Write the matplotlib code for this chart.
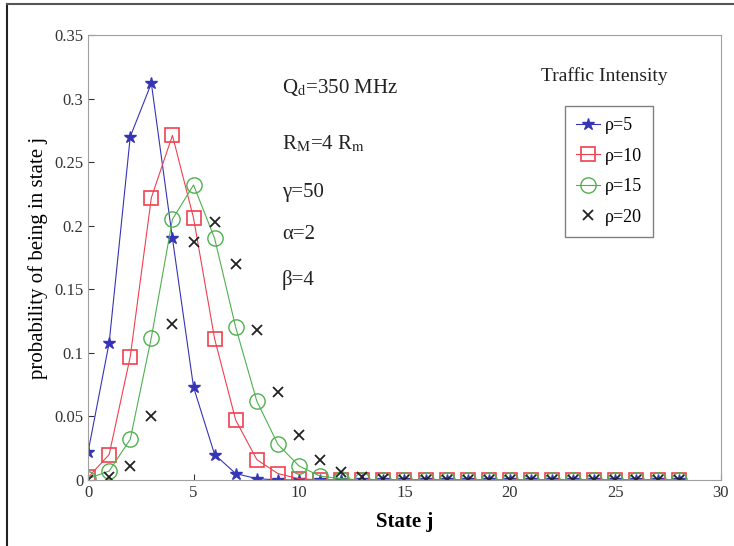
import matplotlib
matplotlib.use('Agg')
from matplotlib import pyplot as plt
from matplotlib.lines import Line2D

plt.rcParams['font.family'] = ['Liberation Serif', 'DejaVu Serif']
plt.rcParams['mathtext.fontset'] = 'stix'

states = list(range(29))

rho5 = [0.022, 0.108, 0.270, 0.312, 0.190, 0.073, 0.020, 0.005, 0.001, 0.0,
        0.0, 0.0, 0.0, 0.0, 0.0, 0.0, 0.0, 0.0, 0.0, 0.0,
        0.0, 0.0, 0.0, 0.0, 0.0, 0.0, 0.0, 0.0, 0.0]
rho10 = [0.002, 0.020, 0.097, 0.222, 0.271, 0.206, 0.111, 0.047, 0.016, 0.005,
         0.001, 0.0, 0.0, 0.0, 0.0, 0.0, 0.0, 0.0, 0.0, 0.0,
         0.0, 0.0, 0.0, 0.0, 0.0, 0.0, 0.0, 0.0, 0.0]
rho15 = [0.001, 0.007, 0.032, 0.112, 0.205, 0.232, 0.190, 0.120, 0.062, 0.028,
         0.011, 0.003, 0.001, 0.0, 0.0, 0.0, 0.0, 0.0, 0.0, 0.0,
         0.0, 0.0, 0.0, 0.0, 0.0, 0.0, 0.0, 0.0, 0.0]
rho20 = [0.0, 0.002, 0.011, 0.050, 0.123, 0.187, 0.203, 0.170, 0.118, 0.069,
         0.035, 0.016, 0.006, 0.002, 0.001, 0.0, 0.0, 0.0, 0.0, 0.0,
         0.0, 0.0, 0.0, 0.0, 0.0, 0.0, 0.0, 0.0, 0.0]

params = [r'Q$_{\rm d}$=350 MHz', r'R$_{\rm M}$=4 R$_{\rm m}$',
          'γ=50', 'α=2', 'β=4']
param_y = [0.309, 0.264, 0.226, 0.193, 0.157]

fig = plt.figure(figsize=(7.34, 5.46), dpi=100)
ax = fig.add_axes([0.12, 0.121, 0.862, 0.815])

ax.plot(states, rho5, color='#3535b5', linewidth=0.8, marker='*', markersize=9,
        markerfacecolor='#3535b5', markeredgecolor='#3535b5', label='ρ=5')
ax.plot(states, rho10, color='#f04050', linewidth=0.8, marker='s', markersize=10,
        markerfacecolor='none', markeredgecolor='#f04050', markeredgewidth=1.2,
        label='ρ=10')
ax.plot(states, rho15, color='#50b050', linewidth=0.8, marker='o', markersize=11,
        markerfacecolor='none', markeredgecolor='#50b050', markeredgewidth=1.0,
        label='ρ=15')
ax.plot(states, rho20, linestyle='none', marker='x', markersize=7, color='#222222',
        markeredgewidth=1.3, label='ρ=20')

ax.set_xlim(0, 30)
ax.set_ylim(0, 0.35)
ax.set_xticks(range(0, 31, 5))
ax.set_yticks([0, 0.05, 0.1, 0.15, 0.2, 0.25, 0.3, 0.35])
ax.set_yticklabels(['0', '0.05', '0.1', '0.15', '0.2', '0.25', '0.3', '0.35'])
ax.tick_params(labelsize=12, colors='#333333', direction='in', length=4)
for s in ax.spines.values():
    s.set_color('#a0a0a0')
ax.set_xlabel('State j', fontsize=15, fontweight='bold', labelpad=8)
ax.set_ylabel('probability of being in state j', fontsize=15, labelpad=4)

for t, yv in zip(params, param_y):
    ax.text(9.2, yv, t, fontsize=15, color='#222222', va='center')

ax.text(24.5, 0.318, 'Traffic Intensity', fontsize=14, ha='center', va='center',
        color='#222222')
ax.legend(loc='upper left', bbox_to_anchor=(0.74, 0.86), fontsize=13,
          handlelength=1.3, handletextpad=0.3, labelspacing=0.75,
          fancybox=False, edgecolor='#808080', framealpha=1, borderpad=0.6)

# scanned page edge
fig.add_artist(Line2D([0.0095, 0.0095], [0, 0.993], color='#222222', linewidth=1.5,
                      transform=fig.transFigure))
fig.add_artist(Line2D([0.0095, 1.0], [0.993, 0.993], color='#555555', linewidth=1.5,
                      transform=fig.transFigure))

fig.savefig('out.png', dpi=100)
